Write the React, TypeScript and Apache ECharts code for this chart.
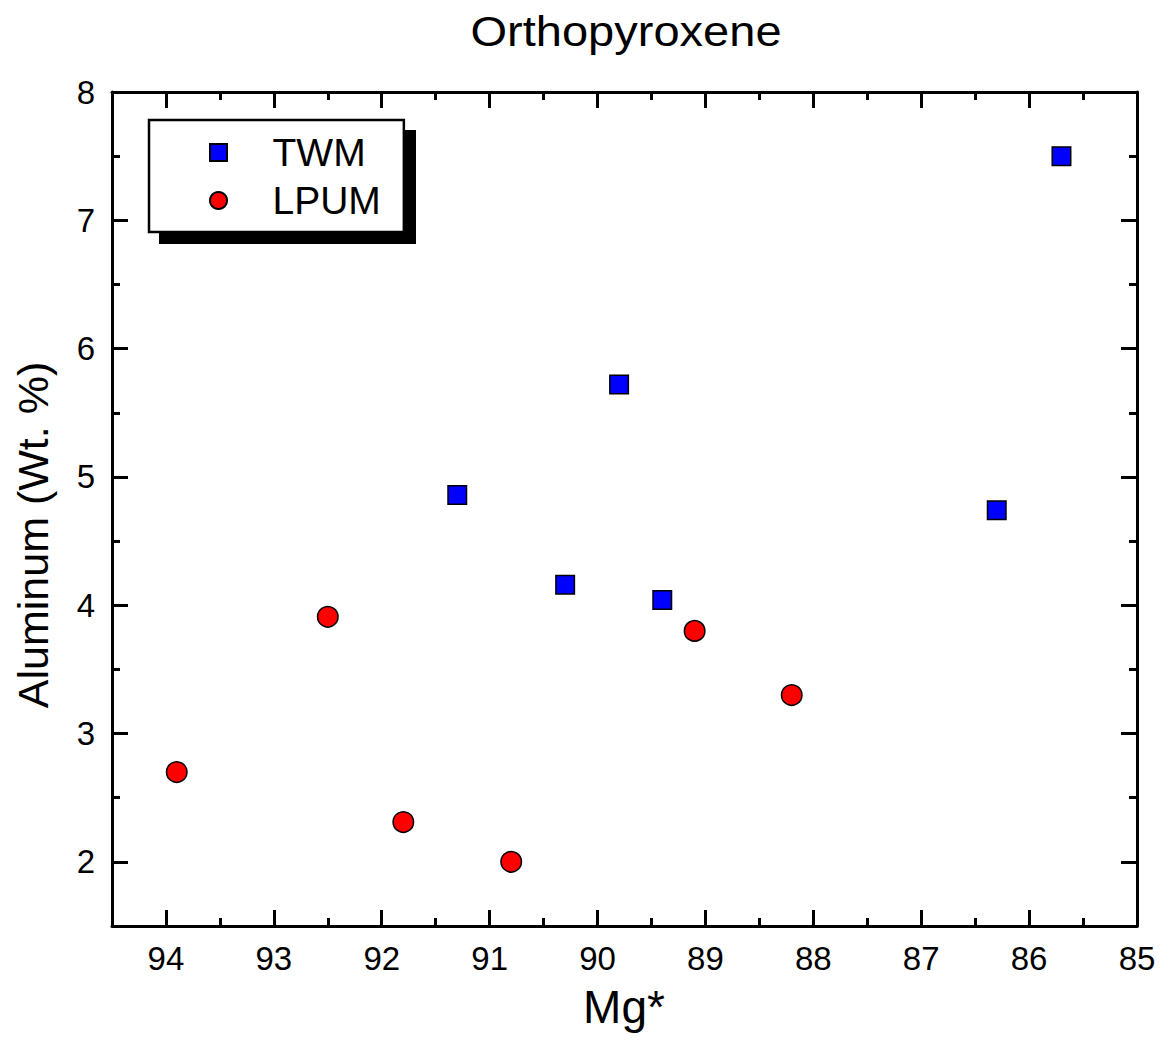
import React, { useEffect, useRef } from 'react';
import * as echarts from 'echarts';

// ---- data ----
const seriesNames = ['TWM', 'LPUM'];
const twmMg = [91.3, 90.3, 89.8, 89.4, 86.3, 85.7];
const twmAl = [4.86, 4.16, 5.72, 4.04, 4.74, 7.5];
const lpumMg = [93.9, 92.5, 91.8, 90.8, 89.1, 88.2];
const lpumAl = [2.7, 3.91, 2.31, 2.0, 3.8, 3.3];

const titleText = 'Orthopyroxene';
const xName = 'Mg*';
const yName = 'Aluminum (Wt. %)';

const xMin = 85;
const xMax = 94.5;
const yMin = 1.5;
const yMax = 8;

const FONT = '"Liberation Sans", Arial, Helvetica, sans-serif';

export default function App() {
  const ref = useRef<HTMLDivElement>(null);

  useEffect(() => {
    if (!ref.current) return;
    const chart = echarts.init(ref.current, null, { renderer: 'svg' });

    const axisLine = { show: true, onZero: false, lineStyle: { color: '#000', width: 3 } };
    const axisTick = { show: true, inside: true, length: 16, lineStyle: { color: '#000', width: 3 } };
    const minorTick = { show: true, splitNumber: 2, length: 8, lineStyle: { color: '#000', width: 3 } };
    const intLabel = (v: number) => (Math.abs(v - Math.round(v)) < 1e-9 ? String(Math.round(v)) : '');

    const xBase = {
      type: 'value',
      inverse: true,
      min: xMin,
      max: xMax,
      interval: 1,
      axisLine,
      axisTick,
      minorTick,
      splitLine: { show: false },
      minorSplitLine: { show: false },
    };
    const yBase = {
      type: 'value',
      min: yMin,
      max: yMax,
      splitNumber: 7,
      axisLine,
      axisTick,
      minorTick,
      splitLine: { show: false },
      minorSplitLine: { show: false },
    };

    const option: any = {
      animation: false,
      backgroundColor: '#fff',
      grid: { left: 112, right: 25, top: 92, bottom: 114, containLabel: false },
      xAxis: [
        {
          ...xBase,
          position: 'bottom',
          axisLabel: { show: true, color: '#000', fontSize: 33, fontFamily: FONT, margin: 16, formatter: intLabel },
        },
        {
          ...xBase,
          position: 'top',
          axisLabel: { show: false },
        },
      ],
      yAxis: [
        {
          ...yBase,
          position: 'left',
          axisLabel: { show: true, color: '#000', fontSize: 33, fontFamily: FONT, margin: 17, formatter: intLabel },
        },
        {
          ...yBase,
          position: 'right',
          axisLabel: { show: false },
        },
      ],
      legend: {
        show: true,
        orient: 'vertical',
        left: 149,
        top: 120,
        padding: [13, 23, 12, 60],
        itemGap: 9,
        itemWidth: 98,
        itemHeight: 17,
        backgroundColor: '#fff',
        borderColor: '#000',
        borderWidth: 2.5,
        borderRadius: 0,
        symbolKeepAspect: true,
        selectedMode: false,
        textStyle: { color: '#000', fontSize: 39, fontFamily: FONT },
        data: [
          { name: seriesNames[0], icon: 'path://M0 0H10V10H0Z' },
          { name: seriesNames[1], icon: 'circle' },
        ],
      },
      graphic: [
        {
          type: 'rect',
          z: 3,
          shape: { x: 159, y: 130, width: 257, height: 114 },
          style: { fill: '#000' },
          silent: true,
        },
        {
          type: 'text',
          x: 626,
          y: 31,
          scaleX: 1.12,
          style: { text: titleText, fontSize: 42, fontFamily: FONT, fill: '#000', align: 'center', verticalAlign: 'middle' },
        },
        {
          type: 'text',
          x: 624,
          y: 1007,
          style: { text: xName, fontSize: 46, fontFamily: FONT, fill: '#000', align: 'center', verticalAlign: 'middle' },
        },
        {
          type: 'text',
          x: 33,
          y: 535,
          rotation: Math.PI / 2,
          style: { text: yName, fontSize: 43, fontFamily: FONT, fill: '#000', align: 'center', verticalAlign: 'middle' },
        },
      ],
      series: [
        {
          name: seriesNames[0],
          type: 'scatter',
          xAxisIndex: 0,
          yAxisIndex: 0,
          symbol: 'rect',
          symbolSize: 18.5,
          itemStyle: { color: '#0000ff', borderColor: '#000', borderWidth: 1.5, opacity: 1 },
          data: twmMg.map((x, i) => [x, twmAl[i]]),
        },
        {
          name: seriesNames[1],
          type: 'scatter',
          xAxisIndex: 0,
          yAxisIndex: 0,
          symbol: 'circle',
          symbolSize: 20.5,
          itemStyle: { color: '#ff0000', borderColor: '#000', borderWidth: 1.5, opacity: 1 },
          data: lpumMg.map((x, i) => [x, lpumAl[i]]),
        },
      ],
    };

    chart.setOption(option);
    return () => chart.dispose();
  }, []);

  return (
    <div
      ref={ref}
      style={{ position: 'absolute', left: 0, top: 0, width: 1162, height: 1040, background: '#fff' }}
    />
  );
}
